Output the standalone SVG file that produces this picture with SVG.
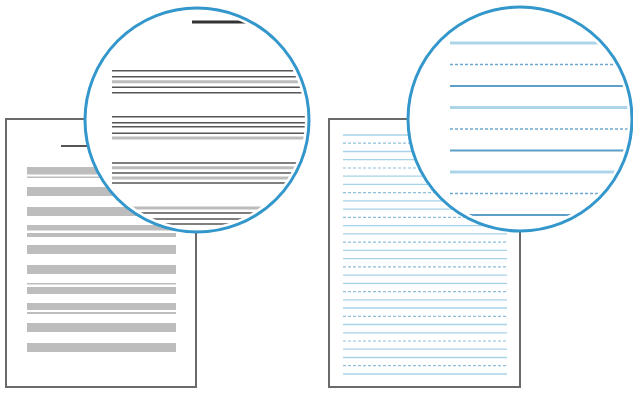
<svg xmlns="http://www.w3.org/2000/svg" width="633" height="394" viewBox="0 0 633 394">
<style>
.page{fill:#fff;stroke:#6a6a6a;stroke-width:2}
.bar{fill:#bdbdbd}
.lens{fill:#fff;stroke:#3397cc;stroke-width:3}
.d{stroke:#555;stroke-width:1.6}
.l{stroke:#bcbcbc;stroke-width:3}
.bs{stroke:#a6d3ea;stroke-width:1.3}
.bd{stroke:#8fbfdb;stroke-width:1.2;stroke-dasharray:3 2}
.mt{stroke:#acd5ea;stroke-width:3.2}
.md{stroke:#6ea9cd;stroke-width:1.4;stroke-dasharray:3 2}
.ms{stroke:#5c9fc8;stroke-width:1.8}
</style>
<defs>
<clipPath id="cl"><circle cx="197" cy="120" r="108"/></clipPath>
<clipPath id="cr"><circle cx="520" cy="119" r="108"/></clipPath>
</defs>
<g id="left-page">
<rect class="page" x="6" y="119" width="190" height="268"/>
<line x1="61" y1="146" x2="100" y2="146" stroke="#555" stroke-width="2"/>
<rect class="bar" x="27" y="167" width="149" height="7.5"/>
<rect class="bar" x="27" y="176.5" width="149" height="1.5"/>
<rect class="bar" x="27" y="187" width="149" height="9"/>
<rect class="bar" x="27" y="207" width="149" height="9"/>
<rect class="bar" x="27" y="225" width="149" height="5.5"/>
<rect class="bar" x="27" y="233" width="149" height="4"/>
<rect class="bar" x="27" y="245" width="149" height="9"/>
<rect class="bar" x="27" y="265" width="149" height="9"/>
<rect class="bar" x="27" y="283" width="149" height="1.5"/>
<rect class="bar" x="27" y="287" width="149" height="7"/>
<rect class="bar" x="27" y="303" width="149" height="7"/>
<rect class="bar" x="27" y="312" width="149" height="2"/>
<rect class="bar" x="27" y="323" width="149" height="9"/>
<rect class="bar" x="27" y="343" width="149" height="9"/>
</g>
<g id="left-lens">
<circle class="lens" cx="197" cy="120" r="112"/>
<g clip-path="url(#cl)">
<line x1="192" y1="22" x2="250" y2="22" stroke="#333" stroke-width="3"/>
<line class="d" x1="112" y1="70.7" x2="320" y2="70.7"/>
<line class="d" x1="112" y1="76.7" x2="320" y2="76.7"/>
<line class="l" x1="112" y1="81.7" x2="320" y2="81.7"/>
<line class="d" x1="112" y1="87.3" x2="320" y2="87.3"/>
<line class="d" x1="112" y1="92.7" x2="320" y2="92.7"/>
<line class="d" x1="112" y1="116.7" x2="320" y2="116.7"/>
<line class="d" x1="112" y1="122.7" x2="320" y2="122.7"/>
<line class="d" x1="112" y1="126.7" x2="320" y2="126.7"/>
<line class="d" x1="112" y1="133.3" x2="320" y2="133.3"/>
<line class="l" x1="112" y1="138" x2="320" y2="138"/>
<line class="d" x1="112" y1="163" x2="320" y2="163"/>
<line class="l" x1="112" y1="167.7" x2="320" y2="167.7"/>
<line class="d" x1="112" y1="173" x2="320" y2="173"/>
<line class="l" x1="112" y1="178" x2="320" y2="178"/>
<line class="d" x1="112" y1="183" x2="320" y2="183"/>
<line class="l" x1="112" y1="208" x2="320" y2="208"/>
<line class="d" x1="112" y1="213" x2="320" y2="213"/>
<line class="d" x1="112" y1="219" x2="320" y2="219"/>
<line class="d" x1="112" y1="224" x2="320" y2="224"/>
</g>
</g>
<g id="right-page">
<rect class="page" x="329" y="119" width="191" height="268"/>
<line class="bs" x1="343" y1="135" x2="507" y2="135"/>
<line class="bd" x1="343" y1="143.2" x2="507" y2="143.2"/>
<line class="bs" x1="343" y1="151.5" x2="507" y2="151.5"/>
<line class="bs" x1="343" y1="159.7" x2="507" y2="159.7"/>
<line class="bd" x1="343" y1="168" x2="507" y2="168"/>
<line class="bs" x1="343" y1="176.2" x2="507" y2="176.2"/>
<line class="bs" x1="343" y1="184.4" x2="507" y2="184.4"/>
<line class="bd" x1="343" y1="192.7" x2="507" y2="192.7"/>
<line class="bs" x1="343" y1="200.9" x2="507" y2="200.9"/>
<line class="bs" x1="343" y1="209.2" x2="507" y2="209.2"/>
<line class="bd" x1="343" y1="217.4" x2="507" y2="217.4"/>
<line class="bs" x1="343" y1="225.6" x2="507" y2="225.6"/>
<line class="bs" x1="343" y1="233.9" x2="507" y2="233.9"/>
<line class="bd" x1="343" y1="242.1" x2="507" y2="242.1"/>
<line class="bs" x1="343" y1="250.4" x2="507" y2="250.4"/>
<line class="bs" x1="343" y1="258.6" x2="507" y2="258.6"/>
<line class="bd" x1="343" y1="266.8" x2="507" y2="266.8"/>
<line class="bs" x1="343" y1="275.1" x2="507" y2="275.1"/>
<line class="bs" x1="343" y1="283.3" x2="507" y2="283.3"/>
<line class="bd" x1="343" y1="291.6" x2="507" y2="291.6"/>
<line class="bs" x1="343" y1="299.8" x2="507" y2="299.8"/>
<line class="bs" x1="343" y1="308" x2="507" y2="308"/>
<line class="bd" x1="343" y1="316.3" x2="507" y2="316.3"/>
<line class="bs" x1="343" y1="324.5" x2="507" y2="324.5"/>
<line class="bs" x1="343" y1="332.8" x2="507" y2="332.8"/>
<line class="bd" x1="343" y1="341" x2="507" y2="341"/>
<line class="bs" x1="343" y1="349.2" x2="507" y2="349.2"/>
<line class="bs" x1="343" y1="357.5" x2="507" y2="357.5"/>
<line class="bd" x1="343" y1="365.7" x2="507" y2="365.7"/>
<line class="bs" x1="343" y1="374" x2="507" y2="374"/>
</g>
<g id="right-lens">
<circle class="lens" cx="520" cy="119" r="112"/>
<g clip-path="url(#cr)">
<line class="mt" x1="450" y1="43" x2="640" y2="43"/>
<line class="md" x1="450" y1="64.5" x2="640" y2="64.5"/>
<line class="ms" x1="450" y1="86" x2="640" y2="86"/>
<line class="mt" x1="450" y1="107.5" x2="640" y2="107.5"/>
<line class="md" x1="450" y1="129" x2="640" y2="129"/>
<line class="ms" x1="450" y1="150.5" x2="640" y2="150.5"/>
<line class="mt" x1="450" y1="172" x2="640" y2="172"/>
<line class="md" x1="450" y1="193.5" x2="640" y2="193.5"/>
<line class="ms" x1="450" y1="215" x2="640" y2="215"/>
</g>
</g>
</svg>
